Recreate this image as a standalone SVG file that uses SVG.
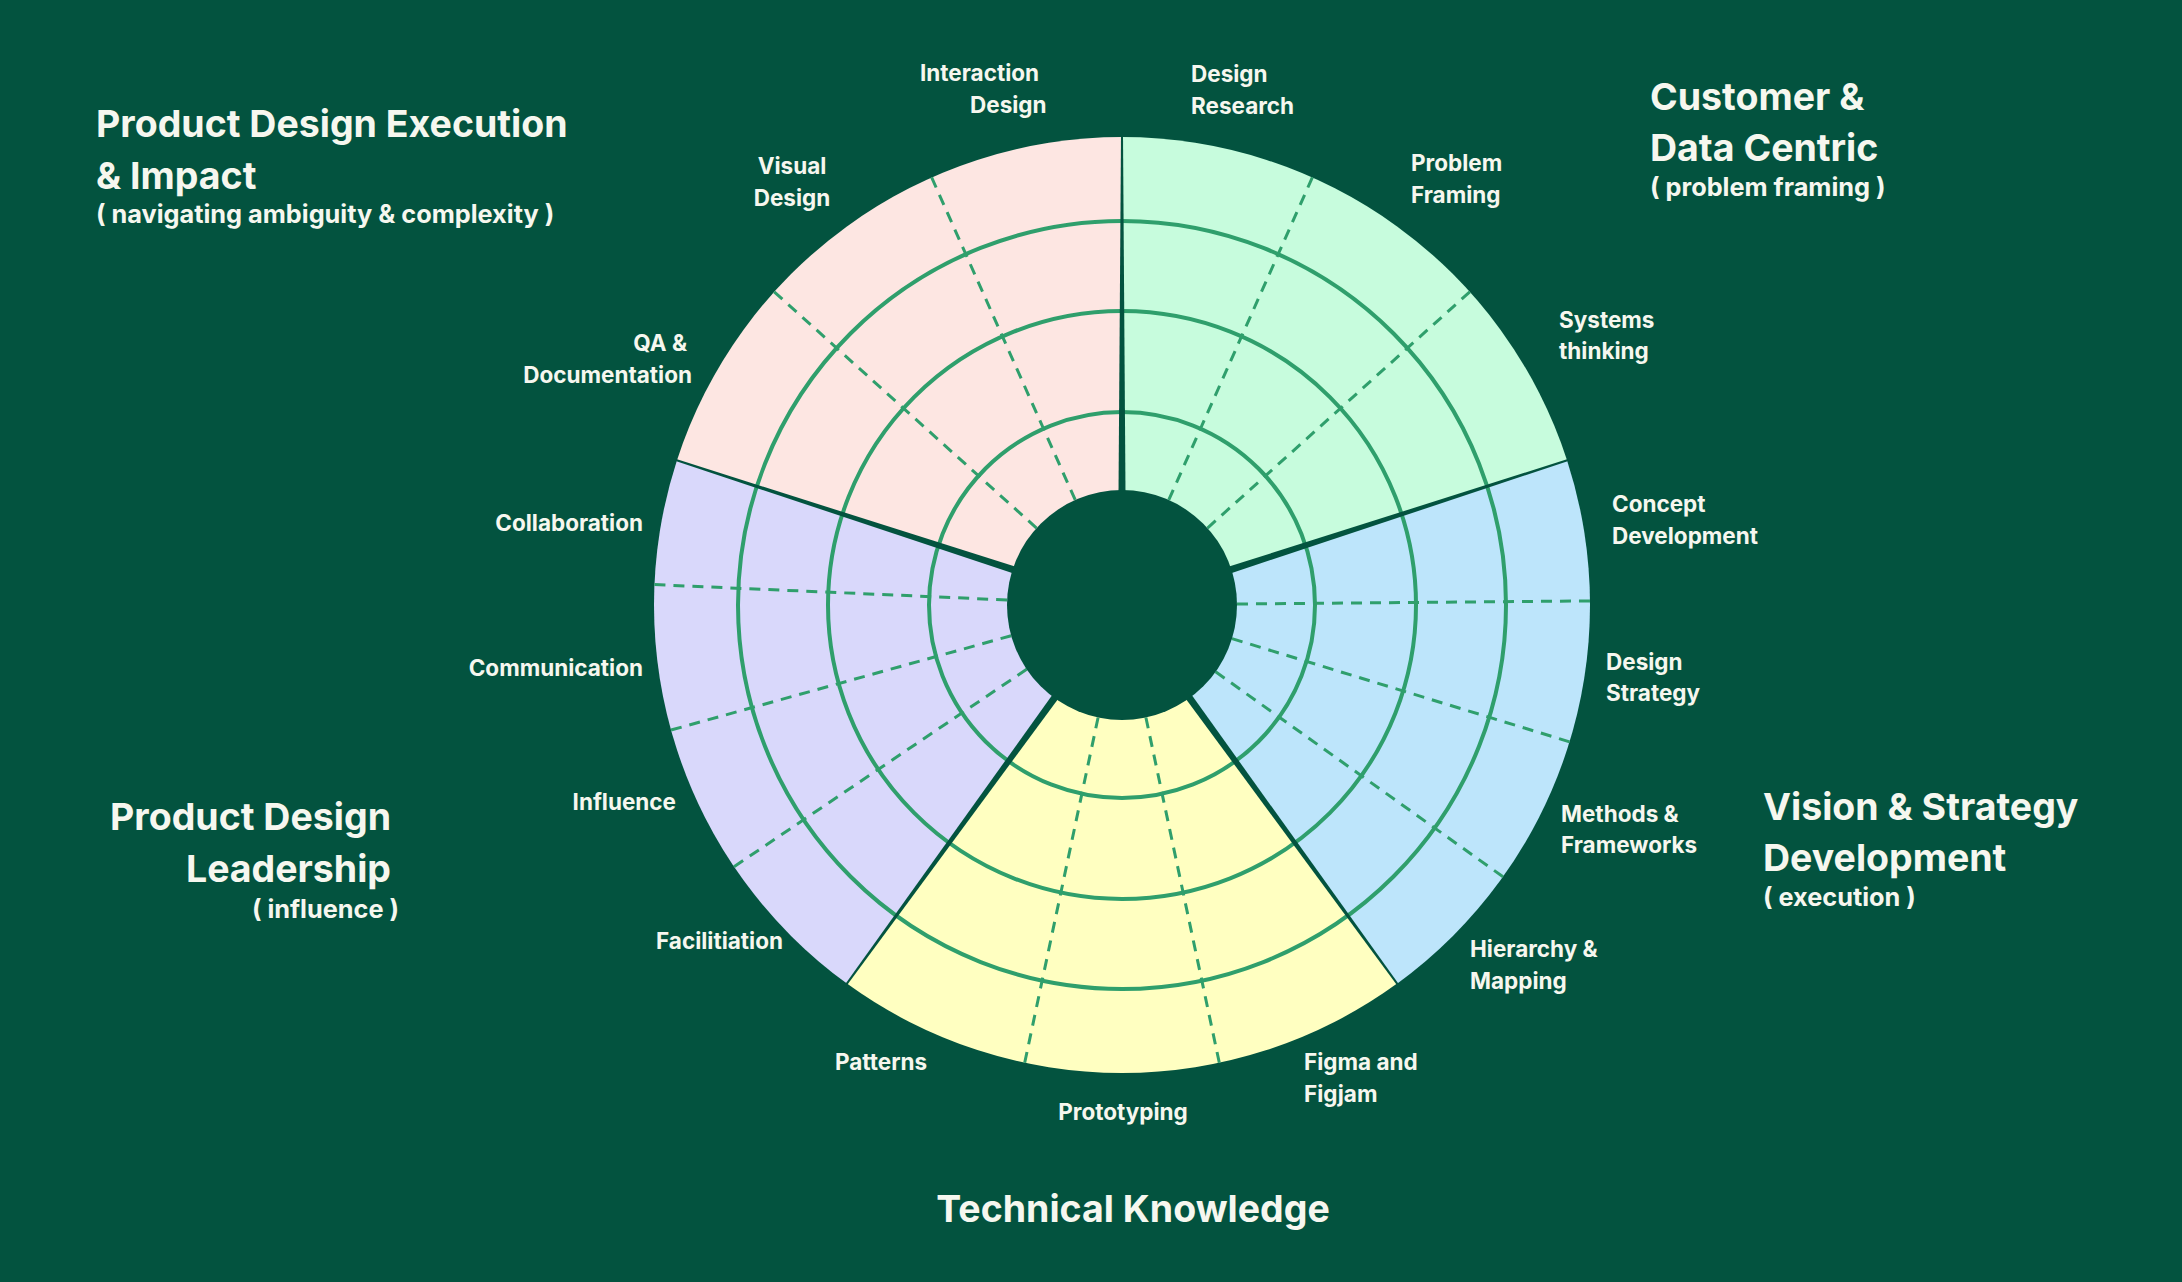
<svg xmlns="http://www.w3.org/2000/svg" width="2182" height="1282" viewBox="0 0 2182 1282">
<style>
.t{font-family:Inter,"Liberation Sans",sans-serif;font-weight:700;fill:#f6f7ef}
.title{font-size:37.5px}
.sub{font-size:25.3px}
.lbl{font-size:22.5px}
.ring{fill:none;stroke:#2f9f6c;stroke-width:4}
.dash{stroke:#2f9f6c;stroke-width:3;stroke-dasharray:11 8}
.sep{fill:#03533f}
</style>
<defs>
<path id="wedge" d="M0,0 L0,-468 A468,468 0 0 1 445.1,-144.62 Z"/>
<line id="dl" x1="0" y1="-115" x2="0" y2="-468"/>
<polygon id="sp" points="-3.5,-112 3.5,-112 1,-469 -1,-469"/>
</defs>
<rect width="2182" height="1282" fill="#03533f"/>
<g id="wheel" transform="translate(1122,605)">
 <g id="sectors">
  <use id="sec-customer" href="#wedge" fill="#c7fcdd"/>
  <use id="sec-vision" href="#wedge" transform="rotate(72)" fill="#bde5fb"/>
  <use id="sec-technical" href="#wedge" transform="rotate(144)" fill="#ffffc1"/>
  <use id="sec-leadership" href="#wedge" transform="rotate(216)" fill="#d9d8fb"/>
  <use id="sec-execution" href="#wedge" transform="rotate(288)" fill="#fde6e2"/>
 </g>
 <g id="rings">
  <circle class="ring" r="193"/>
  <circle class="ring" r="294"/>
  <circle class="ring" r="384"/>
 </g>
 <g id="connectors">
  <use class="dash" href="#dl" transform="rotate(24)"/>
  <use class="dash" href="#dl" transform="rotate(48)"/>
  <use class="dash" href="#dl" transform="rotate(89.5)"/>
  <use class="dash" href="#dl" transform="rotate(107)"/>
  <use class="dash" href="#dl" transform="rotate(125.5)"/>
  <use class="dash" href="#dl" transform="rotate(168)"/>
  <use class="dash" href="#dl" transform="rotate(192)"/>
  <use class="dash" href="#dl" transform="rotate(236)"/>
  <use class="dash" href="#dl" transform="rotate(254.5)"/>
  <use class="dash" href="#dl" transform="rotate(272.5)"/>
  <use class="dash" href="#dl" transform="rotate(312)"/>
  <use class="dash" href="#dl" transform="rotate(336)"/>
 </g>
 <g id="separators">
  <use class="sep" href="#sp"/>
  <use class="sep" href="#sp" transform="rotate(72)"/>
  <use class="sep" href="#sp" transform="rotate(144)"/>
  <use class="sep" href="#sp" transform="rotate(216)"/>
  <use class="sep" href="#sp" transform="rotate(288)"/>
 </g>
 <circle id="hub" r="115" fill="#03533f"/>
</g>
<g id="title-execution" class="t">
 <text class="title" x="96" y="137">Product Design Execution</text>
 <text class="title" x="96" y="189">&amp; Impact</text>
 <text class="sub" x="96" y="223">( navigating ambiguity &amp; complexity )</text>
</g>
<g id="title-customer" class="t">
 <text class="title" x="1650" y="110">Customer &amp;</text>
 <text class="title" x="1650" y="161">Data Centric</text>
 <text class="sub" x="1650" y="196">( problem framing )</text>
</g>
<g id="title-vision" class="t">
 <text class="title" x="1763" y="820">Vision &amp; Strategy</text>
 <text class="title" x="1763" y="871">Development</text>
 <text class="sub" x="1763" y="906">( execution )</text>
</g>
<g id="title-leadership" class="t" text-anchor="end">
 <text class="title" x="391" y="830">Product Design</text>
 <text class="title" x="391" y="882">Leadership</text>
 <text class="sub" x="399" y="918">( influence )</text>
</g>
<g id="title-technical" class="t">
 <text class="title" x="1133" y="1222" text-anchor="middle">Technical Knowledge</text>
</g>
<g id="labels" class="t lbl">
 <g id="l-interaction"><text x="920" y="81">Interaction</text><text x="970" y="113">Design</text></g>
 <g id="l-research"><text x="1191" y="82">Design</text><text x="1191" y="114">Research</text></g>
 <g id="l-visual" text-anchor="middle"><text x="792" y="174">Visual</text><text x="792" y="206">Design</text></g>
 <g id="l-problem"><text x="1411" y="171">Problem</text><text x="1411" y="203">Framing</text></g>
 <g id="l-qa" text-anchor="end"><text x="687" y="351">QA &amp;</text><text x="692" y="383">Documentation</text></g>
 <g id="l-systems"><text x="1559" y="328">Systems</text><text x="1559" y="359">thinking</text></g>
 <g id="l-concept"><text x="1612" y="512">Concept</text><text x="1612" y="544">Development</text></g>
 <g id="l-collab" text-anchor="end"><text x="643" y="531">Collaboration</text></g>
 <g id="l-comm" text-anchor="end"><text x="643" y="676">Communication</text></g>
 <g id="l-strategy"><text x="1606" y="670">Design</text><text x="1606" y="701">Strategy</text></g>
 <g id="l-influence" text-anchor="end"><text x="676" y="810">Influence</text></g>
 <g id="l-methods"><text x="1561" y="822">Methods &amp;</text><text x="1561" y="853">Frameworks</text></g>
 <g id="l-facil" text-anchor="end"><text x="783" y="949">Facilitiation</text></g>
 <g id="l-hierarchy"><text x="1470" y="957">Hierarchy &amp;</text><text x="1470" y="989">Mapping</text></g>
 <g id="l-patterns"><text x="835" y="1070">Patterns</text></g>
 <g id="l-proto" text-anchor="middle"><text x="1123" y="1120">Prototyping</text></g>
 <g id="l-figma"><text x="1304" y="1070">Figma and</text><text x="1304" y="1102">Figjam</text></g>
</g>
</svg>
